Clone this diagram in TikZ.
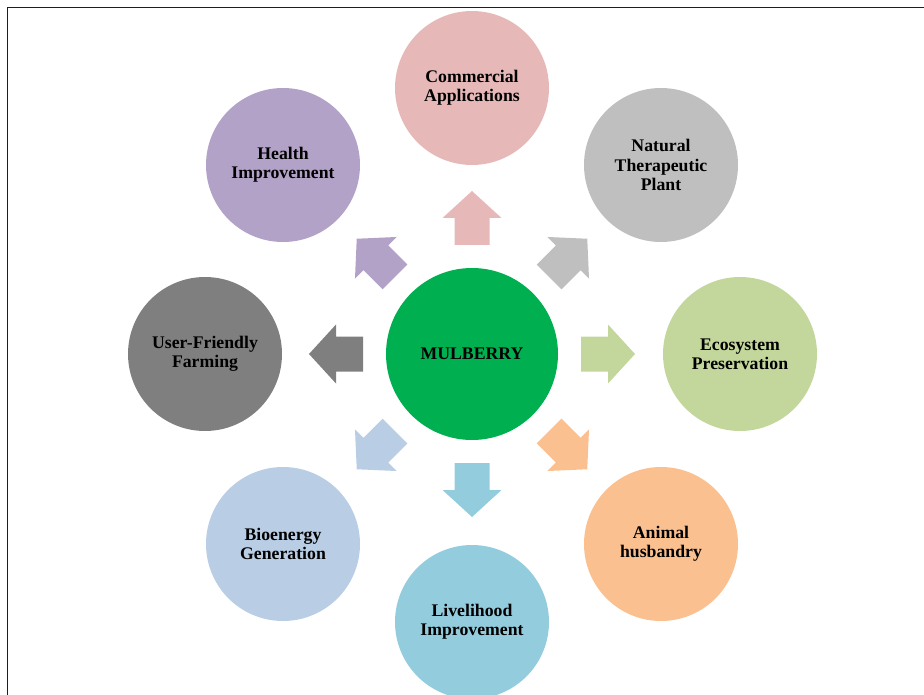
\documentclass[tikz,border=0pt]{standalone}
\usepackage{fontspec}
\setmainfont{Liberation Serif}

\definecolor{commpink}{HTML}{E6B9B8}
\definecolor{plantgray}{HTML}{BFBFBF}
\definecolor{ecogreen}{HTML}{C3D69B}
\definecolor{animalorange}{HTML}{FAC090}
\definecolor{lifeblue}{HTML}{93CDDD}
\definecolor{bioblue}{HTML}{B9CDE5}
\definecolor{farmgray}{HTML}{7F7F7F}
\definecolor{healthpurple}{HTML}{B3A2C7}
\definecolor{mulgreen}{HTML}{00B050}

\tikzset{every picture/.style={line width=0.75pt}}
\tikzset{
  bubble/.style={circle, draw=none, minimum size=115.5pt, inner sep=0pt, align=center,
    font=\fontsize{13.3}{14.4}\selectfont\bfseries},
  hub/.style={bubble, minimum size=129pt},
  blockarrow/.style={draw=none}
}

\begin{document}
\begin{tikzpicture}[x=0.75pt,y=0.75pt,yscale=-1,xscale=1]
	\useasboundingbox (0,0) rectangle (924,695);

	%Frame, left and top edges only
	\draw [line width=0.9pt, color={rgb, 255:red, 30; green, 30; blue, 30 }] (7.5,695) -- (7.5,7.5) -- (924,7.5) ;

	%Centre
	\node [hub, fill=mulgreen] (mulberry) at (472,354) {MULBERRY};

	%Outer circles
	\node [bubble, fill=commpink] (commercial) at (472,88) {Commercial\\Applications};
	\node [bubble, fill=plantgray] (plant) at (661,165) {Natural\\Therapeutic\\Plant};
	\node [bubble, fill=ecogreen] (ecosystem) at (740,354) {Ecosystem\\Preservation};
	\node [bubble, fill=animalorange] (animal) at (661,544) {Animal\\husbandry};
	\node [bubble, fill=lifeblue] (livelihood) at (472,622) {Livelihood\\Improvement};
	\node [bubble, fill=bioblue] (bioenergy) at (283,544) {Bioenergy\\Generation};
	\node [bubble, fill=farmgray] (farming) at (205,354) {User-Friendly\\Farming};
	\node [bubble, fill=healthpurple] (health) at (283,165) {Health\\Improvement};

	%Block arrows round the centre
	\draw [blockarrow, fill=commpink, shift={(mulberry.center)}, rotate=-90] (109,-17.5) -- (136,-17.5) -- (136,-29.5) -- (163,0) -- (136,29.5) -- (136,17.5) -- (109,17.5) -- cycle ;
	\draw [blockarrow, fill=plantgray, shift={(mulberry.center)}, rotate=-45] (109,-17.5) -- (136,-17.5) -- (136,-29.5) -- (163,0) -- (136,29.5) -- (136,17.5) -- (109,17.5) -- cycle ;
	\draw [blockarrow, fill=ecogreen, shift={(mulberry.center)}, rotate=0] (109,-17.5) -- (136,-17.5) -- (136,-29.5) -- (163,0) -- (136,29.5) -- (136,17.5) -- (109,17.5) -- cycle ;
	\draw [blockarrow, fill=animalorange, shift={(mulberry.center)}, rotate=45] (109,-17.5) -- (136,-17.5) -- (136,-29.5) -- (163,0) -- (136,29.5) -- (136,17.5) -- (109,17.5) -- cycle ;
	\draw [blockarrow, fill=lifeblue, shift={(mulberry.center)}, rotate=90] (109,-17.5) -- (136,-17.5) -- (136,-29.5) -- (163,0) -- (136,29.5) -- (136,17.5) -- (109,17.5) -- cycle ;
	\draw [blockarrow, fill=bioblue, shift={(mulberry.center)}, rotate=135] (109,-17.5) -- (136,-17.5) -- (136,-29.5) -- (163,0) -- (136,29.5) -- (136,17.5) -- (109,17.5) -- cycle ;
	\draw [blockarrow, fill=farmgray, shift={(mulberry.center)}, rotate=180] (109,-17.5) -- (136,-17.5) -- (136,-29.5) -- (163,0) -- (136,29.5) -- (136,17.5) -- (109,17.5) -- cycle ;
	\draw [blockarrow, fill=healthpurple, shift={(mulberry.center)}, rotate=-135] (109,-17.5) -- (136,-17.5) -- (136,-29.5) -- (163,0) -- (136,29.5) -- (136,17.5) -- (109,17.5) -- cycle ;

\end{tikzpicture}
\end{document}
